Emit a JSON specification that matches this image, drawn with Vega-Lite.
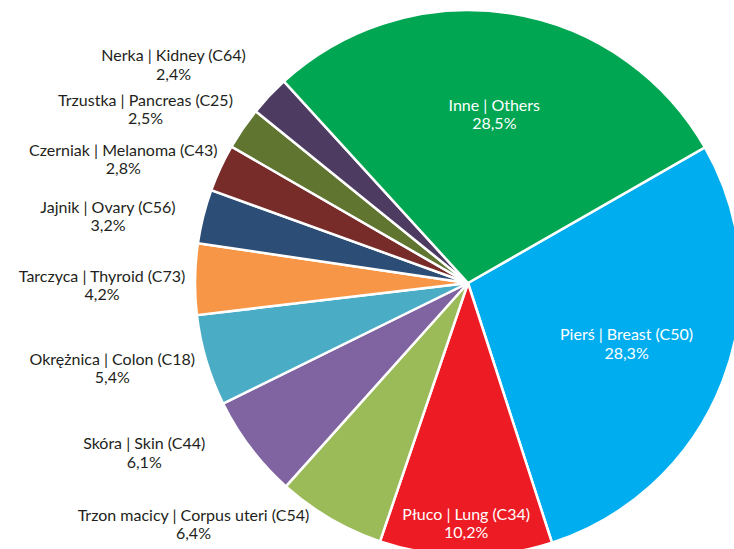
{
  "$schema": "https://vega.github.io/schema/vega-lite/v6.json",
  "width": 936,
  "height": 566,
  "autosize": {"type": "none"},
  "padding": 0,
  "background": "white",
  "config": {"view": {"stroke": null}},
  "data": {
    "values": [
      {"rank": 1, "name": "Pierś | Breast (C50)", "value": 28.3},
      {"rank": 2, "name": "Płuco | Lung (C34)", "value": 10.2},
      {"rank": 3, "name": "Trzon macicy | Corpus uteri (C54)", "value": 6.4},
      {"rank": 4, "name": "Skóra | Skin (C44)", "value": 6.1},
      {"rank": 5, "name": "Okrężnica | Colon (C18)", "value": 5.4},
      {"rank": 6, "name": "Tarczyca | Thyroid (C73)", "value": 4.2},
      {"rank": 7, "name": "Jajnik | Ovary (C56)", "value": 3.2},
      {"rank": 8, "name": "Czerniak | Melanoma (C43)", "value": 2.8},
      {"rank": 9, "name": "Trzustka | Pancreas (C25)", "value": 2.5},
      {"rank": 10, "name": "Nerka | Kidney (C64)", "value": 2.4},
      {"rank": 11, "name": "Inne | Others", "value": 28.5}
    ]
  },
  "transform": [
    {"stack": "value", "groupby": [], "sort": [{"field": "rank", "order": "ascending"}], "as": ["v0", "v1"]},
    {"calculate": "(datum.v0 + datum.v1) / 2", "as": "mid"},
    {"calculate": "datum.name + '\\n' + replace(format(datum.value, '.1f'), '.', ',') + '%'", "as": "label"}
  ],
  "layer": [
    {
      "mark": {"type": "arc", "radius": 273, "stroke": "white", "strokeWidth": 2.5},
      "encoding": {
        "theta": {"field": "v0", "type": "quantitative", "scale": {"domain": [0, 100], "range": [1.0507, 7.3339]}},
        "theta2": {"field": "v1"},
        "color": {
          "field": "name",
          "type": "nominal",
          "legend": null,
          "scale": {
            "domain": ["Pierś | Breast (C50)", "Płuco | Lung (C34)", "Trzon macicy | Corpus uteri (C54)", "Skóra | Skin (C44)", "Okrężnica | Colon (C18)", "Tarczyca | Thyroid (C73)", "Jajnik | Ovary (C56)", "Czerniak | Melanoma (C43)", "Trzustka | Pancreas (C25)", "Nerka | Kidney (C64)", "Inne | Others"],
            "range": ["#00aeef", "#ed1c24", "#9bbb59", "#8064a2", "#4bacc6", "#f79646", "#2c4d75", "#772c2a", "#5f7530", "#4d3b62", "#00a651"]
          }
        }
      }
    },
    {
      "transform": [{"filter": "datum.value >= 20"}],
      "mark": {"type": "text", "radius": 170, "dy": -9.25, "color": "white", "font": "Lato", "fontSize": 16, "lineHeight": 18.5, "lineBreak": "\n", "align": "center", "baseline": "middle"},
      "encoding": {
        "theta": {"field": "mid", "type": "quantitative", "scale": {"domain": [0, 100], "range": [1.0507, 7.3339]}},
        "text": {"field": "label"}
      }
    },
    {
      "transform": [{"filter": "datum.value > 10 && datum.value < 20"}],
      "mark": {"type": "text", "radius": 241, "dy": -9.25, "color": "white", "font": "Lato", "fontSize": 16, "lineHeight": 18.5, "lineBreak": "\n", "align": "center", "baseline": "middle"},
      "encoding": {
        "theta": {"field": "mid", "type": "quantitative", "scale": {"domain": [0, 100], "range": [1.0507, 7.3339]}},
        "text": {"field": "label"}
      }
    },
    {
      "transform": [{"filter": "datum.value < 10"}],
      "mark": {"type": "text", "radius": 366, "dy": -9.25, "color": "#231f20", "font": "Lato", "fontSize": 16, "lineHeight": 18.5, "lineBreak": "\n", "align": "center", "baseline": "middle"},
      "encoding": {
        "theta": {"field": "mid", "type": "quantitative", "scale": {"type": "pow", "exponent": 2, "domain": [0, 100], "range": [3.2524, 7.4935]}},
        "text": {"field": "label"}
      }
    }
  ],
  "resolve": {"scale": {"theta": "independent"}}
}
